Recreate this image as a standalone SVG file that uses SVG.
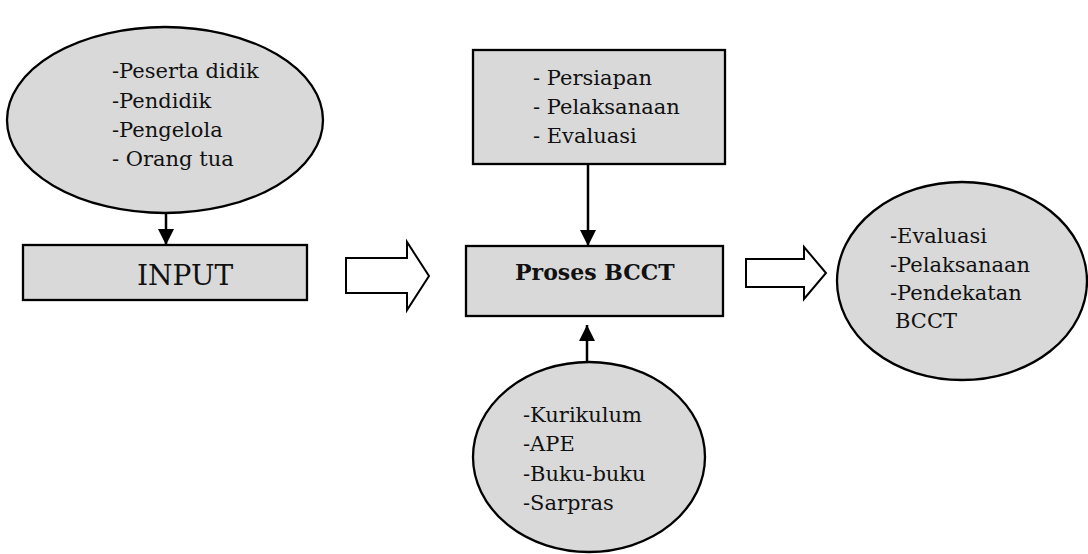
<svg xmlns="http://www.w3.org/2000/svg" width="1088" height="554" viewBox="0 0 1088 554">
<defs>
<style>
.shape{fill:#d9d9d9;stroke:#000;stroke-width:2.3}
.hollow{fill:#fff;stroke:#000;stroke-width:2}
.conn{stroke:#000;stroke-width:2.5;fill:none}
.t{font-family:"DejaVu Serif","Liberation Serif",serif;font-size:21px;fill:#111}
.big{font-family:"DejaVu Serif","Liberation Serif",serif;font-size:28px;fill:#111}
.bold{font-family:"DejaVu Serif","Liberation Serif",serif;font-size:22px;font-weight:bold;fill:#111}
</style>
<marker id="ah" viewBox="0 0 16 16" refX="16" refY="8" markerWidth="16" markerHeight="16" markerUnits="userSpaceOnUse" orient="auto">
<path d="M0,0 L16,8 L0,16 Z" fill="#000"/>
</marker>
</defs>
<rect width="1088" height="554" fill="#fff"/>
<g id="input-ellipse">
<ellipse class="shape" cx="165" cy="120" rx="158" ry="93"/>
<text class="t" x="112" y="78">-Peserta didik</text>
<text class="t" x="112" y="108">-Pendidik</text>
<text class="t" x="112" y="137">-Pengelola</text>
<text class="t" x="112" y="166">- Orang tua</text>
</g>
<g id="input-box">
<rect class="shape" x="23" y="245" width="284" height="55"/>
<text class="big" x="137" y="285">INPUT</text>
</g>
<g id="stages-box">
<rect class="shape" x="473" y="50" width="252" height="114"/>
<text class="t" x="533" y="85">- Persiapan</text>
<text class="t" x="533" y="114">- Pelaksanaan</text>
<text class="t" x="533" y="143">- Evaluasi</text>
</g>
<g id="proses-box">
<rect class="shape" x="466" y="246" width="257" height="70"/>
<text class="bold" x="515" y="280">Proses BCCT</text>
</g>
<g id="resources-ellipse">
<ellipse class="shape" cx="589" cy="457" rx="116" ry="95"/>
<text class="t" x="523" y="422">-Kurikulum</text>
<text class="t" x="523" y="451">-APE</text>
<text class="t" x="523" y="481">-Buku-buku</text>
<text class="t" x="523" y="510">-Sarpras</text>
</g>
<g id="output-ellipse">
<ellipse class="shape" cx="962" cy="281" rx="125" ry="99"/>
<text class="t" x="890" y="243">-Evaluasi</text>
<text class="t" x="890" y="272">-Pelaksanaan</text>
<text class="t" x="890" y="300">-Pendekatan</text>
<text class="t" x="895" y="328">BCCT</text>
</g>
<g id="connectors">
<line class="conn" x1="166" y1="213" x2="166" y2="245" marker-end="url(#ah)"/>
<line class="conn" x1="588" y1="164" x2="588" y2="246" marker-end="url(#ah)"/>
<line class="conn" x1="587" y1="362" x2="587" y2="325" marker-end="url(#ah)"/>
<polygon class="hollow" points="346,258 407,258 407,242 429,276 407,310 407,293 346,293"/>
<polygon class="hollow" points="746,259 804,259 804,247 826,273 804,299 804,287 746,287"/>
</g>
</svg>
